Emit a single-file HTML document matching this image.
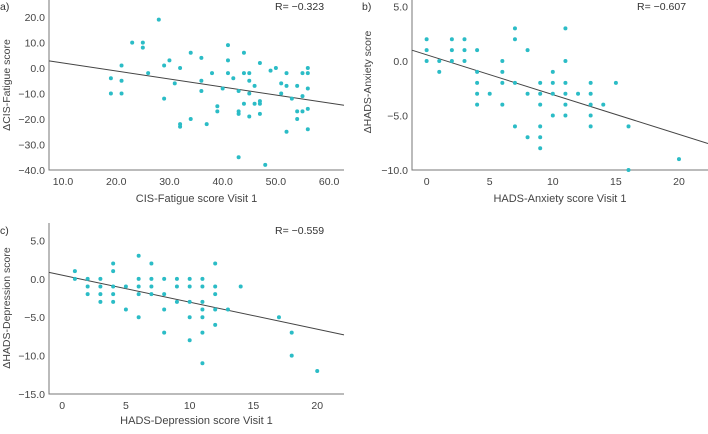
<!DOCTYPE html>
<html><head><meta charset="utf-8"><style>
body{margin:0;background:#fff;width:708px;height:429px;overflow:hidden}
svg{font-family:"Liberation Sans",sans-serif}
</style></head><body>
<svg id="chart" width="708" height="429" xmlns="http://www.w3.org/2000/svg"></svg>
<script>
// Panel a data
const aX=[19,19,21,21,21,23,25,25,26,28,29,29,30,31,32,32,32,34,34,36,36,36,37,38,39,39,40,41,41,41,42,43,43,43,43,44,44,44,45,45,45,45,46,46,47,47,47,47,48,49,50,51,51,52,52,52,53,54,54,54,55,55,55,56,56,56,56,56];
const aY=[-4,-10,1,-5,-10,10,10,8,-2,19,1,-12,3,-6,0,-22,-23,6,-20,4,-5,-9,-22,-2,-15,-17,-8,9,3,-2,-4,-9,-17,-18,-35,6,-2,-14,-2,-5,-10,-19,-7,-14,2,-13,-14,-18,-38,-1,0,-6,-10,-2,-7,-25,-12,-7,-17,-20,-2,-11,-17,0,-2,-8,-16,-24];
const aXTicks=[10,20,30,40,50,60];
const aYTicks=[20,10,0,-10,-20,-30,-40];
const aFit=[5.12,-0.314];
// Panel b data
const bX=[0,0,0,1,1,2,2,2,3,3,3,4,4,4,4,4,5,6,6,6,6,7,7,7,7,8,8,8,9,9,9,9,9,9,10,10,10,10,11,11,11,11,11,11,12,13,13,13,13,13,14,15,16,16,20];
const bY=[2,1,0,0,-1,2,1,0,2,1,0,1,-1,-2,-3,-4,-3,0,-1,-2,-4,3,2,-2,-6,1,-3,-7,-2,-3,-4,-6,-7,-8,-1,-2,-3,-5,3,0,-2,-3,-4,-5,-3,-2,-3,-4,-5,-6,-4,-2,-6,-10,-9];
const bXTicks=[0,5,10,15,20];
const bYTicks=[5,0,-5,-10];
const bFit=[0.57,-0.365];
// Panel c data
const cX=[1,1,2,2,2,3,3,3,3,4,4,4,4,4,5,5,6,6,6,6,6,7,7,7,7,8,8,8,8,9,9,9,10,10,10,10,10,11,11,11,11,11,11,11,12,12,12,12,12,13,14,17,18,18,20];
const cY=[1,0,0,-1,-2,0,-1,-2,-3,2,1,-1,-2,-3,-1,-4,3,0,-1,-2,-5,2,0,-1,-2,0,-2,-4,-7,0,-1,-3,0,-1,-3,-5,-8,0,-1,-3,-4,-5,-7,-11,2,-1,-2,-4,-6,-4,-1,-5,-7,-10,-12];
const cXTicks=[0,5,10,15,20];
const cYTicks=[5,0,-5,-10,-15];
const cFit=[0.48,-0.352];

const svg=document.getElementById('chart');
const NS='http://www.w3.org/2000/svg';
function mk(tag,attrs,parent){const e=document.createElementNS(NS,tag);for(const k in attrs)e.setAttribute(k,attrs[k]);(parent||svg).appendChild(e);return e;}

function panel(id,cfg,xs,ys,xt,yt,fit,fmtX){
  const g=mk('g',{});
  
  
  const sx=v=>cfg.x0+(v-cfg.xmin)/(cfg.xmax-cfg.xmin)*(cfg.x1-cfg.x0);
  const sy=v=>cfg.y1-(v-cfg.ymin)/(cfg.ymax-cfg.ymin)*(cfg.y1-cfg.y0);
  const ax=mk('path',{d:`M${cfg.x0},${cfg.y0}V${cfg.y1}H${cfg.x1}`,fill:'none',stroke:'#777','stroke-width':1},g);
  
  
  yt.forEach(v=>{
    const t=mk('text',{x:cfg.x0-4,y:sy(v)+4,'text-anchor':'end','font-size':10.5,fill:'#444'},g);
    t.textContent=v===0?'0.0':(v<0?'\u2212'+(-v).toFixed(1):v.toFixed(1));
    
    
  });
  xt.forEach(v=>{
    const t=mk('text',{x:sx(v),y:cfg.y1+15,'text-anchor':'middle','font-size':10.5,fill:'#444'},g);
    t.textContent=fmtX(v);
    
    
  });
  const ln=mk('line',{x1:sx(cfg.xmin),y1:sy(fit[0]+fit[1]*cfg.xmin),x2:sx(cfg.xmax),y2:sy(fit[0]+fit[1]*cfg.xmax),stroke:'#444','stroke-width':1},g);
  
  
  xs.forEach((x,i)=>{
    const c=mk('circle',{cx:sx(x),cy:sy(ys[i]),r:2,fill:'#2bbcc6'},g);
    
    
  });
  const r=mk('text',{x:cfg.rx,y:cfg.ry,'font-size':10.5,fill:'#333'},g);
  r.textContent=cfg.r;
  
  
  const l=mk('text',{x:cfg.lx,y:cfg.ly,'font-size':10.5,fill:'#333'},g);
  l.textContent=id+')';
  
  
  const xtit=mk('text',{x:(cfg.x0+cfg.x1)/2,y:cfg.xty,'text-anchor':'middle','font-size':11,fill:'#444'},g);
  xtit.textContent=cfg.xtitle;
  
  
  const ytit=mk('text',{x:0,y:0,'text-anchor':'middle','font-size':10.5,fill:'#444',transform:`translate(${cfg.ytx},${cfg.yty}) rotate(-90)`},g);
  ytit.textContent=cfg.ytitle;
  
  
}
panel('a',{x0:49,x1:344,y0:0,y1:170,xmin:7.37,xmax:62.8,ymin:-40,ymax:26.7,r:'R= \u22120.323',rx:275,ry:10,lx:0,ly:10,xtitle:'CIS-Fatigue score Visit 1',xty:202,ytitle:'\u0394CIS-Fatigue score',ytx:10,yty:85},aX,aY,aXTicks,aYTicks,aFit,v=>v.toFixed(1));
panel('b',{x0:412,x1:708,y0:0,y1:170,xmin:-1.16,xmax:22.3,ymin:-10,ymax:5.6,r:'R= \u22120.607',rx:637,ry:10,lx:362,ly:10,xtitle:'HADS-Anxiety score Visit 1',xty:202,ytitle:'\u0394HADS-Anxiety score',ytx:371,yty:82},bX,bY,bXTicks,bYTicks,bFit,v=>String(v));
panel('c',{x0:49,x1:344,y0:223,y1:394,xmin:-1.03,xmax:22.1,ymin:-15,ymax:7.27,r:'R= \u22120.559',rx:275,ry:234,lx:0,ly:234,xtitle:'HADS-Depression score Visit 1',xty:424,ytitle:'\u0394HADS-Depression score',ytx:10,yty:308},cX,cY,cXTicks,cYTicks,cFit,v=>String(v));
</script>
</body></html>
